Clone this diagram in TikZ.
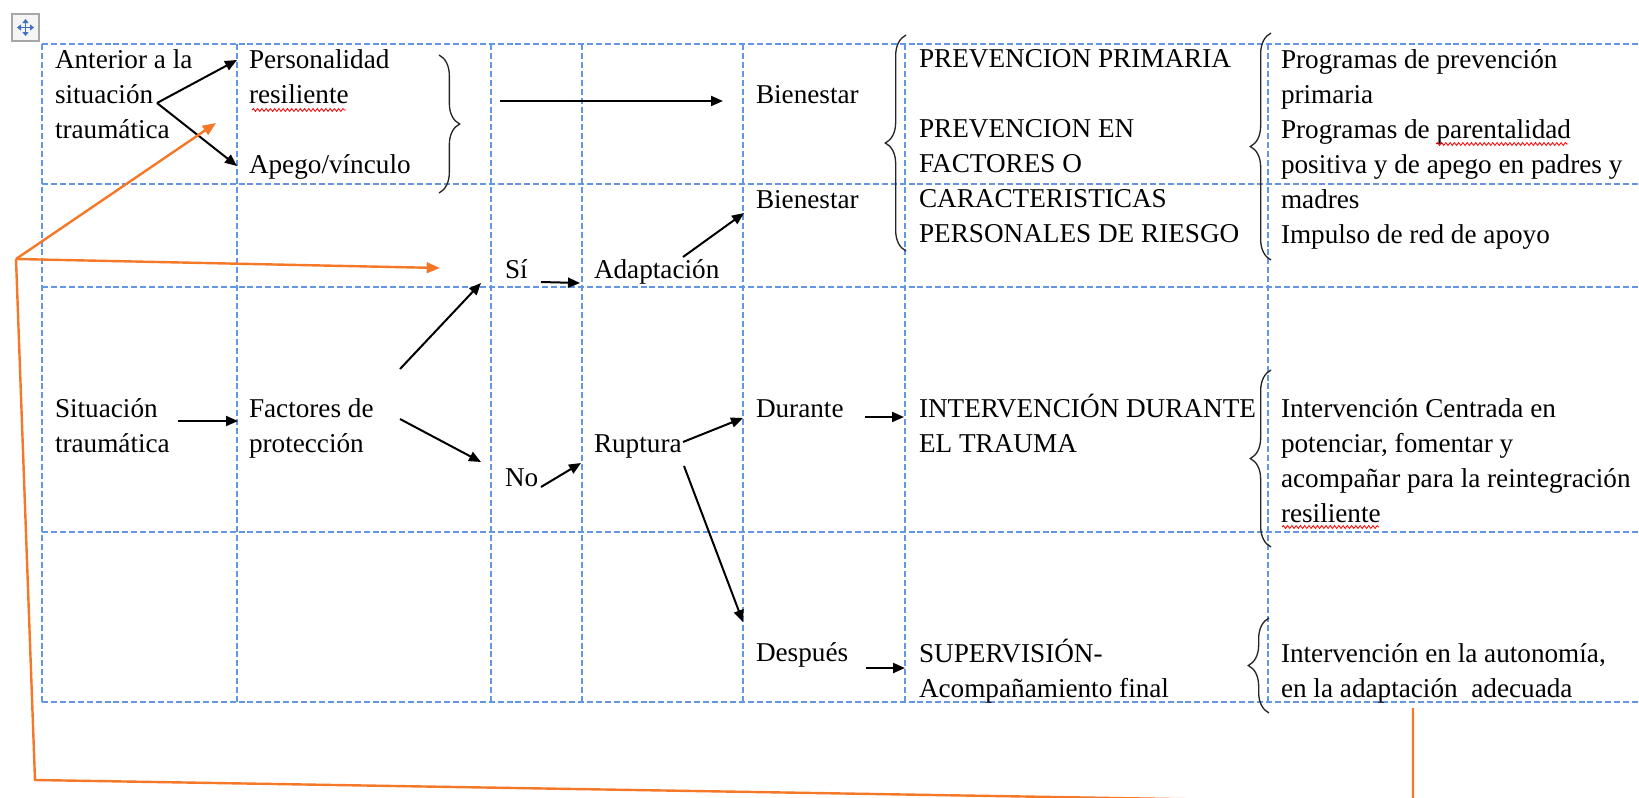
\documentclass[tikz,border=0pt]{standalone}
\usepackage{fontspec}
\setmainfont{Liberation Serif}
\usetikzlibrary{arrows.meta,decorations.pathreplacing,decorations.pathmorphing}
\definecolor{gridblue}{RGB}{100,150,230}
\definecolor{orangeline}{RGB}{245,120,40}
\definecolor{iconblue}{RGB}{60,110,200}
\newcommand{\cellfont}{\fontsize{20.4}{26.25}\selectfont}
\begin{document}
\begin{tikzpicture}[x=0.75pt,y=-0.75pt,
  txt/.style={anchor=north west,inner sep=0pt,outer sep=0pt,align=left,font=\cellfont},
  gridline/.style={gridblue,line width=1.1pt,dash pattern=on 4.5pt off 2.2pt},
  arr/.style={black,line width=1.5pt,-{Triangle[length=9pt,width=7.5pt]}},
  oarr/.style={orangeline,line width=1.8pt,-{Triangle[length=10pt,width=8pt]}},
  oline/.style={orangeline,line width=1.8pt},
  brc/.style={draw=black!85,line width=1.0pt,decorate,decoration={brace,amplitude=15.5pt}},
  squig/.style={red,line width=0.6pt,decorate,decoration={snake,amplitude=1.1pt,segment length=3.2pt}}
]
\useasboundingbox (0,0) rectangle (1639,797);
\clip (0,0) rectangle (1639,797);
% table grid
\foreach \y in {44,184,287,532,702} \draw[gridline] (42,\y) -- (1650,\y);
\foreach \x in {42,237,491,582,743,905,1268} \draw[gridline] (\x,44) -- (\x,702);
% table move handle
\draw[draw=gray!70,fill=gray!8,line width=0.8pt] (12,14) rectangle (39,41);
\draw[iconblue,line width=1.1pt,{Triangle[length=3pt,width=4.5pt]}-{Triangle[length=3pt,width=4.5pt]}] (17,27.5) -- (34,27.5);
\draw[iconblue,line width=1.1pt,{Triangle[length=3pt,width=4.5pt]}-{Triangle[length=3pt,width=4.5pt]}] (25.5,19) -- (25.5,36);
% texts
\node[txt] (ant) at (55,43.5) {\strut Anterior a la\\situación\\traumática};
\node[txt] (pers) at (249,43.5) {\strut Personalidad\\resiliente};
\node[txt] (apego) at (249,148.5) {\strut Apego/vínculo};
\node[txt] (bien1) at (756,78.5) {\strut Bienestar};
\node[txt] (prevp) at (919,42.5) {\strut PREVENCION PRIMARIA};
\node[txt] (preven) at (919,112.5) {\strut PREVENCION EN\\FACTORES O\\CARACTERISTICAS\\PERSONALES DE RIESGO};
\node[txt] (prog) at (1281,43.5) {\strut Programas de prevención\\primaria\\Programas de parentalidad\\positiva y de apego en padres y\\madres\\Impulso de red de apoyo};
\node[txt] (bien2) at (756,183.5) {\strut Bienestar};
\node[txt] (si) at (505,253.5) {\strut Sí};
\node[txt] (adap) at (594,253.5) {\strut Adaptación};
\node[txt] (sit) at (55,392.5) {\strut Situación\\traumática};
\node[txt] (fac) at (249,392.5) {\strut Factores de\\protección};
\node[txt] (no) at (505,461.5) {\strut No};
\node[txt] (rup) at (594,427.5) {\strut Ruptura};
\node[txt] (dur) at (756,392.5) {\strut Durante};
\node[txt] (intd) at (919,392.5) {\strut INTERVENCIÓN DURANTE\\EL TRAUMA};
\node[txt] (intc) at (1281,392.5) {\strut Intervención Centrada en\\potenciar, fomentar y\\acompañar para la reintegración\\resiliente};
\node[txt] (desp) at (756,636.5) {\strut Después};
\node[txt] (sup) at (919,637.5) {\strut SUPERVISIÓN-\\Acompañamiento final};
\node[txt] (inta) at (1281,637.5) {\strut Intervención en la autonomía,\\en la adaptación\ \ adecuada};
% spell-check underlines
\draw[squig] (252,110) -- (346,110);
\draw[squig] (1436,144) -- (1568,144);
\draw[squig] (1282,527) -- (1379,527);
% braces
\draw[brc] (439,55) -- (439,193);
\draw[brc] (906,251) -- (906,35);
\draw[brc] (1271,260) -- (1271,33);
\draw[brc] (1271,547) -- (1271,370);
\draw[brc] (1269,713) -- (1269,618);
% arrow end points
\coordinate (antout) at (157,103);
\coordinate (persin) at (237,60);
\coordinate (apegoin) at (237,166);
\coordinate (brout) at (500,101);
\coordinate (bien1in) at (723,101);
\coordinate (siout) at (541,282);
\coordinate (adapin) at (580,283);
\coordinate (adapout) at (683,257);
\coordinate (bien2in) at (744,213);
\coordinate (sitout) at (178,421);
\coordinate (facin) at (238,421);
\coordinate (facup) at (400,369);
\coordinate (siin) at (481,283);
\coordinate (facdn) at (400,419);
\coordinate (noin) at (481,462);
\coordinate (noout) at (541,487);
\coordinate (rupin) at (581,463);
\coordinate (rupout) at (683,442);
\coordinate (durin) at (743,418);
\coordinate (durout) at (865,417);
\coordinate (intdin) at (904,417);
\coordinate (rupdn) at (684,466);
\coordinate (despin) at (743,622);
\coordinate (despout) at (866,668);
\coordinate (supin) at (905,668);
% black arrows
\draw[arr] (antout) -- (persin);
\draw[arr] (antout) -- (apegoin);
\draw[arr] (brout) -- (bien1in);
\draw[arr] (siout) -- (adapin);
\draw[arr] (adapout) -- (bien2in);
\draw[arr] (sitout) -- (facin);
\draw[arr] (facup) -- (siin);
\draw[arr] (facdn) -- (noin);
\draw[arr] (noout) -- (rupin);
\draw[arr] (rupout) -- (durin);
\draw[arr] (durout) -- (intdin);
\draw[arr] (rupdn) -- (despin);
\draw[arr] (despout) -- (supin);
% orange connectors
\coordinate (ov) at (16,259);
\coordinate (ob) at (35,780);
\coordinate (oc) at (1413,803);
\coordinate (ot) at (1413,708);
\coordinate (o1) at (216,123);
\coordinate (o2) at (440,268);
\draw[oline] (ot) -- (oc) -- (ob) -- (ov);
\draw[oarr] (ov) -- (o1);
\draw[oarr] (ov) -- (o2);
\end{tikzpicture}
\end{document}
